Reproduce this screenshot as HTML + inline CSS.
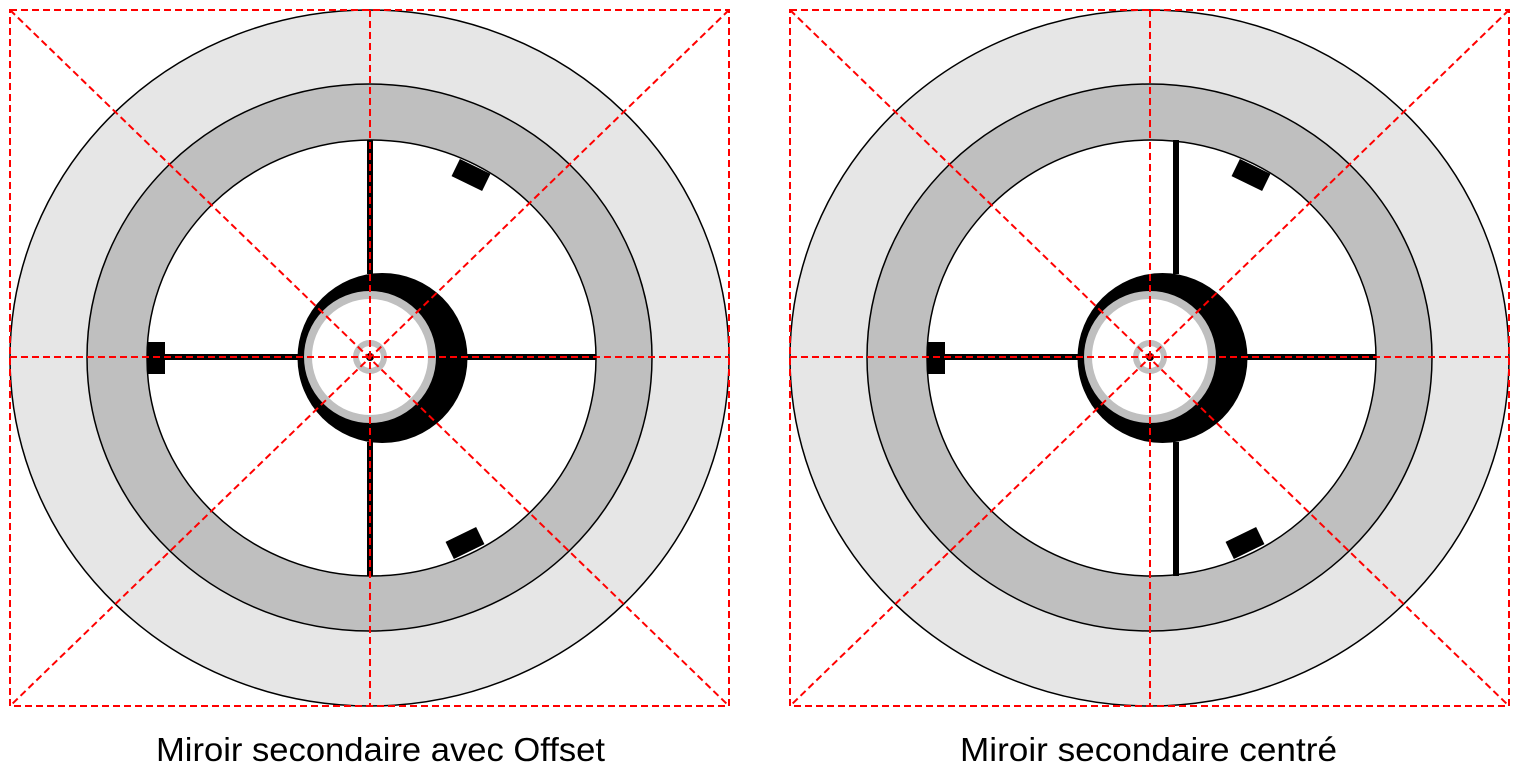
<!DOCTYPE html>
<html><head><meta charset="utf-8"><style>html,body{margin:0;padding:0;background:#fff}svg{display:block}</style></head>
<body>
<svg width="1515" height="772" viewBox="0 0 1515 772" xmlns="http://www.w3.org/2000/svg">
<defs>
<g id="base">
  <ellipse cx="369.5" cy="358" rx="359.5" ry="348" fill="#e6e6e6" stroke="#000" stroke-width="1.5"/>
  <ellipse cx="369.5" cy="357.5" rx="282.5" ry="273.5" fill="#bfbfbf" stroke="#000" stroke-width="1.5"/>
  <ellipse cx="371.5" cy="358" rx="224.5" ry="218" fill="#fff" stroke="#000" stroke-width="1.5"/>
  <rect x="147" y="354" width="449" height="6" fill="#000"/>
  <rect x="147" y="342" width="18" height="32" fill="#000"/>
  <rect x="-17" y="-9.5" width="34" height="19" fill="#000" transform="translate(471,175) rotate(26)"/>
  <rect x="-17" y="-9.5" width="34" height="19" fill="#000" transform="translate(465,543) rotate(-26)"/>
  <circle cx="382.5" cy="358" r="85" fill="#000"/>
  <circle cx="370" cy="357" r="62" fill="#fff" stroke="#bfbfbf" stroke-width="8"/>
  <circle cx="370" cy="357" r="14" fill="#fff" stroke="#bfbfbf" stroke-width="6"/>
  <circle cx="370" cy="357" r="4" fill="#000"/>
</g>
<g id="red" fill="none" stroke="#f00" stroke-width="2" stroke-dasharray="7,4">
  <rect x="10" y="10" width="719" height="696"/>
  <line x1="10" y1="10" x2="729" y2="706"/>
  <line x1="729" y1="10" x2="10" y2="706"/>
  <line x1="370" y1="10" x2="370" y2="706"/>
  <line x1="10" y1="357" x2="729" y2="357"/>
</g>
</defs>
<use href="#base"/>
<rect x="367" y="140" width="6" height="134" fill="#000"/>
<rect x="367" y="442" width="6" height="134" fill="#000"/>
<use href="#red"/>
<g transform="translate(780,0)">
  <use href="#base"/>
  <rect x="393" y="140" width="6" height="134" fill="#000"/>
  <rect x="393" y="442" width="6" height="134" fill="#000"/>
  <use href="#red"/>
</g>
<text x="156" y="761" font-family="Liberation Sans, sans-serif" font-size="33" textLength="449" lengthAdjust="spacingAndGlyphs" fill="#000">Miroir secondaire avec Offset</text>
<text x="960" y="761" font-family="Liberation Sans, sans-serif" font-size="33" textLength="377" lengthAdjust="spacingAndGlyphs" fill="#000">Miroir secondaire centré</text>
</svg>
</body></html>
